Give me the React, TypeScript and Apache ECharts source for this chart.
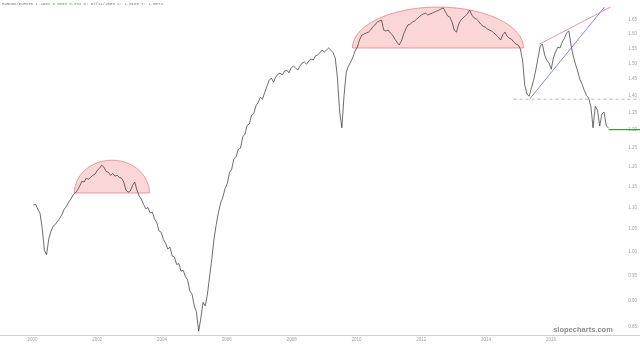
import React, { useEffect, useRef } from "react";
import * as echarts from "echarts";

// Sampling of the ratio series (fractional years, ~3.5 weeks apart)
const START_YEAR = 2000.03;
const STEP_YEARS = 0.068;

const prices = [
  1.105, 1.107, 1.095, 1.086, 1.051, 1.002, 0.993, 1.028, 1.044, 1.056,
  1.06, 1.067, 1.074, 1.083, 1.095, 1.102, 1.112, 1.119, 1.129, 1.134,
  1.141, 1.151, 1.163, 1.161, 1.171, 1.168, 1.173, 1.178, 1.181, 1.191,
  1.196, 1.204, 1.199, 1.188, 1.186, 1.178, 1.183, 1.176, 1.178, 1.173,
  1.171, 1.161, 1.141, 1.136, 1.139, 1.153, 1.161, 1.141, 1.127, 1.119,
  1.107, 1.096, 1.099, 1.086, 1.088, 1.072, 1.064, 1.045, 1.042, 1.026,
  1.018, 1.005, 1.009, 0.99, 0.988, 0.972, 0.974, 0.958, 0.96, 0.947,
  0.94, 0.918, 0.912, 0.889, 0.878, 0.842, 0.866, 0.896, 0.889, 0.912,
  0.948, 0.985, 1.028, 1.06, 1.088, 1.11, 1.124, 1.145, 1.157, 1.185,
  1.194, 1.221, 1.226, 1.246, 1.249, 1.28, 1.287, 1.312, 1.316, 1.34,
  1.346, 1.368, 1.378, 1.394, 1.388, 1.409, 1.427, 1.446, 1.453, 1.44,
  1.456, 1.465, 1.469, 1.462, 1.475, 1.478, 1.469, 1.485, 1.491, 1.485,
  1.478, 1.491, 1.501, 1.504, 1.497, 1.507, 1.514, 1.51, 1.524, 1.527,
  1.534, 1.543, 1.537, 1.543, 1.55, 1.543, 1.534, 1.517, 1.453, 1.35,
  1.305, 1.4, 1.472, 1.491, 1.504, 1.52, 1.54, 1.553, 1.577, 1.594,
  1.597, 1.601, 1.604, 1.611, 1.622, 1.629, 1.639, 1.643, 1.646, 1.611,
  1.608, 1.611, 1.601, 1.594, 1.58, 1.57, 1.56, 1.573, 1.597, 1.615,
  1.629, 1.632, 1.639, 1.643, 1.65, 1.657, 1.664, 1.668, 1.671, 1.664,
  1.668, 1.671, 1.675, 1.678, 1.682, 1.686, 1.69, 1.675, 1.661, 1.657,
  1.639, 1.611, 1.604, 1.632, 1.646, 1.654, 1.661, 1.668, 1.682, 1.664,
  1.654, 1.65, 1.643, 1.632, 1.625, 1.622, 1.615, 1.611, 1.608, 1.601,
  1.594, 1.587, 1.577, 1.594, 1.604, 1.59, 1.583, 1.58, 1.57, 1.563,
  1.56, 1.547, 1.51, 1.431, 1.403, 1.397, 1.421, 1.446, 1.478, 1.517,
  1.557, 1.563, 1.527, 1.51, 1.501, 1.481, 1.517, 1.537, 1.553, 1.55,
  1.57, 1.583, 1.601, 1.608, 1.56, 1.524, 1.497, 1.475, 1.449, 1.434,
  1.415, 1.4, 1.391, 1.367, 1.305, 1.367, 1.356, 1.31, 1.344, 1.35,
  1.31, 1.305,
];

const xTicks = [2000, 2002, 2004, 2006, 2008, 2010, 2012, 2014, 2016];
const yTicks = [
  0.85, 0.9, 0.95, 1.0, 1.05, 1.1, 1.15, 1.2, 1.25, 1.3, 1.35, 1.4, 1.45, 1.5,
  1.55, 1.6, 1.65,
];

// Rounded-top annotations: [startYear, endYear, baseValue, topValue]
const domes = [
  [2001.296, 2003.611, 1.134, 1.217],
  [2009.876, 2015.154, 1.55, 1.693],
];
const supportLine = [
  [2014.845, 1.388],
  [2018.75, 1.388],
];
const lowerWedge = [
  [2015.34, 1.388],
  [2017.654, 1.693],
];
const upperWedge = [
  [2015.648, 1.563],
  [2017.84, 1.693],
];
const lastPriceLine = [
  [2017.778, 1.3],
  [2018.75, 1.3],
];

const X_MIN = 1999.0;
const X_MAX = 2018.75;
const Y_MIN = 0.835;
const Y_MAX = 1.719;

export default function App() {
  const ref = useRef<HTMLDivElement>(null);

  useEffect(() => {
    if (!ref.current) return;
    const chart = echarts.init(ref.current, undefined, { renderer: "svg" });
    const lineData = prices.map((v, i) => [START_YEAR + i * STEP_YEARS, v]);

    chart.setOption({
      animation: false,
      grid: { left: 0, right: 0, top: 0, bottom: 10 },
      xAxis: {
        type: "value",
        min: X_MIN,
        max: X_MAX,
        axisLine: { show: true, lineStyle: { color: "#cfcfcf", width: 1 } },
        axisTick: { show: false },
        splitLine: { show: false },
        axisLabel: {
          customValues: xTicks,
          fontSize: 4.5,
          color: "#a0a0a0",
          margin: 2,
          formatter: (v: number) => String(Math.round(v)),
        },
      },
      yAxis: {
        type: "log",
        position: "right",
        min: Y_MIN,
        max: Y_MAX,
        axisLine: { show: false },
        axisTick: { show: false },
        splitLine: { show: false },
        axisLabel: {
          customValues: yTicks,
          inside: true,
          fontSize: 4.5,
          color: "#a0a0a0",
          margin: 3,
          formatter: (v: number) => v.toFixed(2),
        },
      },
      graphic: [
        {
          type: "text",
          left: 2,
          top: 2,
          style: {
            text: "{a|EURNOK/EURSEK 1.2954 }{g|0.0000 0.00%}{a| D: 07/21/2003 C: 1.5185 T: 1.5074}",
            rich: {
              a: { fontSize: 4, fontFamily: "Liberation Mono", fill: "#777" },
              g: { fontSize: 4, fontFamily: "Liberation Mono", fill: "#5aa85a" },
            },
          },
        },
        {
          type: "text",
          x: 583,
          y: 329,
          style: {
            text: "slopecharts.com",
            fontSize: 7.5,
            fontWeight: "bold",
            fontFamily: "Liberation Sans",
            fill: "#8a8a8a",
            align: "center",
            verticalAlign: "middle",
          },
        },
      ],
      series: [
        {
          type: "custom",
          data: domes,
          encode: { x: [0, 1], y: [2, 3] },
          z: 1,
          silent: true,
          renderItem: (params: any, api: any) => {
            const x0 = api.value(0);
            const x1 = api.value(1);
            const b = api.value(2);
            const t = api.value(3);
            const p0 = api.coord([x0, b]);
            const p1 = api.coord([x1, b]);
            const pt = api.coord([(x0 + x1) / 2, t]);
            const cx = (p0[0] + p1[0]) / 2;
            const cy = p0[1];
            const rx = (p1[0] - p0[0]) / 2;
            const ry = cy - pt[1];
            const pts: number[][] = [];
            for (let k = 0; k <= 80; k++) {
              const a = (Math.PI * k) / 80;
              pts.push([cx - rx * Math.cos(a), cy - ry * Math.sin(a)]);
            }
            return {
              type: "polygon",
              shape: { points: pts },
              style: {
                fill: "rgba(240,120,120,0.3)",
                stroke: "rgba(225,95,95,0.85)",
                lineWidth: 0.7,
              },
            };
          },
        },
        {
          type: "line",
          data: lineData,
          showSymbol: false,
          z: 3,
          lineStyle: { color: "#2e2e2e", width: 0.7 },
        },
        {
          type: "line",
          data: supportLine,
          showSymbol: false,
          z: 2,
          lineStyle: { color: "#e08a8a", width: 0.8, type: [3, 3] },
        },
        {
          type: "line",
          data: lowerWedge,
          showSymbol: false,
          z: 2,
          lineStyle: { color: "#6a6ae6", width: 0.8 },
        },
        {
          type: "line",
          data: upperWedge,
          showSymbol: false,
          z: 2,
          lineStyle: { color: "#e6788a", width: 0.8 },
        },
        {
          type: "line",
          data: lastPriceLine,
          showSymbol: false,
          z: 4,
          lineStyle: { color: "#3e9a3e", width: 1.2 },
        },
      ],
    });

    return () => chart.dispose();
  }, []);

  return (
    <div
      ref={ref}
      style={{ position: "fixed", left: 0, top: 0, width: 640, height: 345 }}
    />
  );
}
